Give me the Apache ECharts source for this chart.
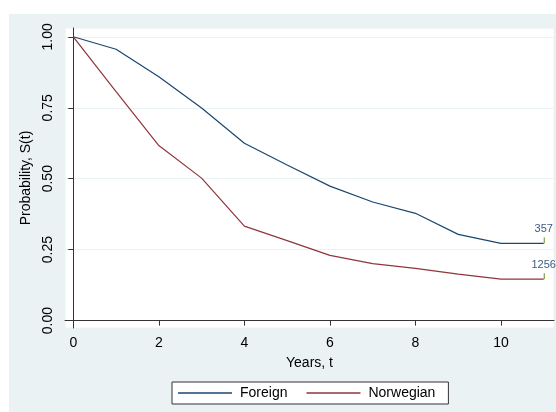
<!DOCTYPE html>
<html>
<head>
<meta charset="utf-8">
<script src="https://cdn.jsdelivr.net/npm/echarts@6/dist/echarts.min.js"></script>
<style>
  html, body { margin: 0; padding: 0; background: #ffffff; }
  #chart { width: 556px; height: 412px; }
</style>
</head>
<body>
<div id="chart"></div>
<script>
// Kaplan-Meier style survival estimates by group
const years = [0, 1, 2, 3, 4, 5, 6, 7, 8, 9, 10, 11];
const foreign = [1.0, 0.956, 0.859, 0.749, 0.625, 0.548, 0.474, 0.418, 0.378, 0.304, 0.272, 0.272];
const norwegian = [1.0, 0.807, 0.617, 0.502, 0.333, 0.282, 0.230, 0.201, 0.184, 0.164, 0.146, 0.146];
const seriesNames = ['Foreign', 'Norwegian'];
const atRisk = [357, 1256];
const xTicks = [0, 2, 4, 6, 8, 10];
const yTicks = [0, 0.25, 0.5, 0.75, 1];

const FONT = '"Liberation Sans", Arial, sans-serif';
const BG = '#eaf2f3';
const colors = ['#1a476f', '#90353b'];

const chart = echarts.init(document.getElementById('chart'), null, { renderer: 'canvas' });

function pairs(vals) {
  return years.map((t, i) => [t, vals[i]]);
}

// number-at-risk marks at the end of each curve
const lastIdx = years.length - 1;
const endData = [foreign, norwegian].map((vals, k) => [years[lastIdx], vals[lastIdx], atRisk[k]]);

function renderEnd(params, api) {
  const p = api.coord([api.value(0), api.value(1)]);
  return {
    type: 'group',
    children: [
      {
        type: 'line',
        shape: { x1: p[0] + 0.5, y1: p[1], x2: p[0] + 0.5, y2: p[1] - 6 },
        style: { stroke: '#6b8e23', lineWidth: 1 }
      },
      {
        type: 'text',
        x: p[0],
        y: p[1] - 9,
        style: {
          text: String(api.value(2)),
          align: 'center',
          verticalAlign: 'bottom',
          fill: '#3d5a87',
          font: '11px ' + FONT
        }
      }
    ]
  };
}

chart.setOption({
  animation: false,
  backgroundColor: '#ffffff',
  graphic: [{
    type: 'rect',
    left: 9, top: 14,
    shape: { width: 547, height: 398 },
    style: { fill: BG },
    z: -10,
    silent: true
  }],
  grid: {
    left: 65, right: 2, top: 28, bottom: 84,
    show: true,
    backgroundColor: '#ffffff',
    borderColor: BG,
    borderWidth: 1
  },
  legend: {
    data: seriesNames,
    left: 172, top: 382,
    padding: [4, 13, 4, 6],
    itemGap: 19,
    itemWidth: 54,
    itemHeight: 1.3,
    icon: 'rect',
    backgroundColor: '#ffffff',
    borderColor: '#333333',
    borderWidth: 1,
    borderRadius: 0,
    textStyle: { fontFamily: FONT, fontSize: 14, color: '#000000', padding: [0, 0, 0, 3] }
  },
  xAxis: {
    type: 'value',
    min: -0.194,
    max: 11.24,
    name: 'Years, t',
    nameLocation: 'middle',
    nameGap: 28,
    nameTextStyle: { fontFamily: FONT, fontSize: 14, color: '#000000' },
    axisLine: { show: true, lineStyle: { color: '#333333', width: 1 } },
    axisTick: { show: true, length: 5, customValues: xTicks, lineStyle: { color: '#333333' } },
    axisLabel: { customValues: xTicks, fontFamily: FONT, fontSize: 14, color: '#000000', margin: 8 },
    splitLine: { show: false }
  },
  yAxis: {
    type: 'value',
    min: -0.026,
    max: 1.031,
    name: 'Probability, S(t)',
    nameLocation: 'middle',
    nameGap: 26,
    nameTextStyle: { fontFamily: FONT, fontSize: 14, color: '#000000' },
    axisLine: { show: true, lineStyle: { color: '#333333', width: 1 } },
    axisTick: { show: true, length: 5, customValues: yTicks, lineStyle: { color: '#333333' } },
    axisLabel: {
      customValues: yTicks,
      rotate: 90,
      fontFamily: FONT, fontSize: 14, color: '#000000', margin: 10,
      formatter: v => v.toFixed(2)
    },
    splitLine: { show: true, lineStyle: { color: BG, width: 1 } }
  },
  series: [
    {
      name: seriesNames[0],
      type: 'line',
      data: pairs(foreign),
      symbol: 'none',
      lineStyle: { color: colors[0], width: 1.2 },
      itemStyle: { color: colors[0] },
      z: 3
    },
    {
      name: seriesNames[1],
      type: 'line',
      data: pairs(norwegian),
      symbol: 'none',
      lineStyle: { color: colors[1], width: 1.2 },
      itemStyle: { color: colors[1] },
      z: 3
    },
    {
      type: 'custom',
      silent: true,
      clip: false,
      renderItem: renderEnd,
      data: endData,
      z: 5
    }
  ]
});
</script>
</body>
</html>
